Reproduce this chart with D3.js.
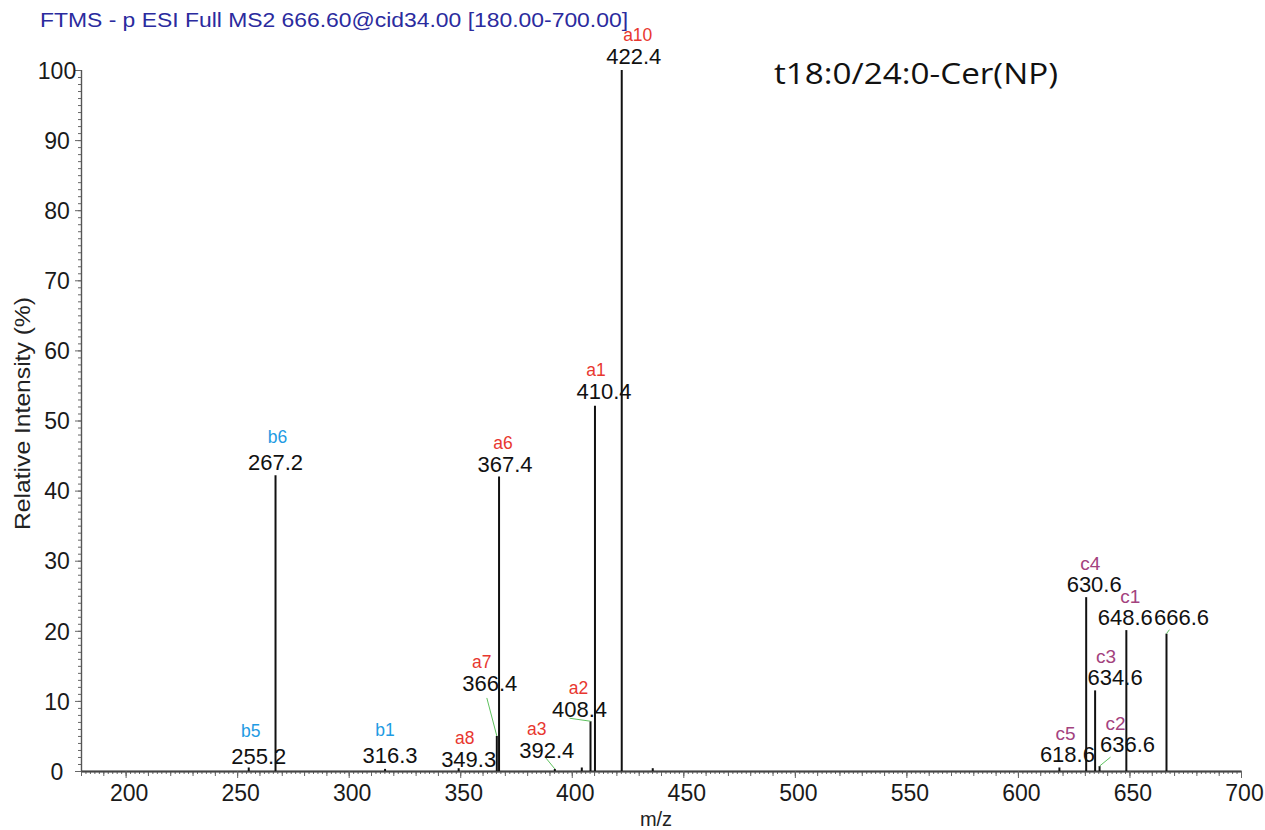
<!DOCTYPE html>
<html><head><meta charset="utf-8">
<script src="https://cdn.jsdelivr.net/npm/d3@7"></script>
<style>
html,body{margin:0;padding:0;background:#fff;}
svg{display:block;font-family:"Liberation Sans",Arial,sans-serif;}
</style></head>
<body><svg id="chart" width="1265" height="830"></svg>
<script>
// ---------- data ----------
const mz        = [255.2, 267.2, 316.3, 349.3, 366.4, 367.4, 392.4, 404.5, 408.4, 410.4, 422.4, 436.3, 618.6, 630.6, 634.6, 636.6, 648.6, 666.6];
const intensity = [0.5,   42.2,  0.3,   0.4,   5.0,   42.0,  0.3,   0.5,   7.1,   52.1,  100,   0.4,   0.5,   24.8,  11.5,  0.7,   20.1,  19.6];
const ionName   = ["b5",  "b6",  "b1",  "a8",  "a7",  "a6",  "a3",  "",    "a2",  "a1",  "a10", "",    "c5",  "c4",  "c3",  "c2",  "c1",  ""];
const ionSeries = ["b",   "b",   "b",   "a",   "a",   "a",   "a",   "",    "a",   "a",   "a",   "",    "c",   "c",   "c",   "c",   "c",   ""];
const labelled  = [true,  true,  true,  true,  true,  true,  true,  false, true,  true,  true,  false, true,  true,  true,  true,  true,  true];
const xTicks = [200, 250, 300, 350, 400, 450, 500, 550, 600, 650, 700];
const yTicks = [0, 10, 20, 30, 40, 50, 60, 70, 80, 90, 100];
const titleText = "FTMS - p ESI Full MS2 666.60@cid34.00 [180.00-700.00]";
const compoundText = "t18:0/24:0-Cer(NP)";
const xTitle = "m/z", yTitle = "Relative Intensity (%)";

// ---------- layout (pixel nudges for peak labels, not data) ----------
// [number dx, number dy (baseline vs peak top), ion dx, ion dy (vs number baseline), leader start dx, leader start dy (vs peak top)]
const labelNudge = {
  "255.2": [10, -3, -8, -27],
  "267.2": [0, -5, 2, -27],
  "316.3": [5, -6, -5, -27],
  "349.3": [10, -1, -4, -23],
  "366.4": [-7, -45, -8, -23, -10, -38],
  "367.4": [6, -5, -2, -23],
  "392.4": [-8, -11, -10, -23, -9, -11],
  "408.4": [-11, -4, -1, -23, -21, -3],
  "410.4": [9, -7, -8, -23],
  "422.4": [12, -6, 4, -23],
  "618.6": [8, -5, -2, -22],
  "630.6": [8, -5, -4, -22],
  "634.6": [20, -5, -9, -22],
  "636.6": [28, -14, -12, -22, 11, -9],
  "648.6": [-1, -5, 5, -22],
  "666.6": [15, -9, 0, -20, 3, -4]
};
const ionColor = {a: "#e8372f", b: "#1f9be3", c: "#a3427e"};

// ---------- chart ----------
const svg = d3.select("#chart");
const x = d3.scaleLinear().domain([180, 700]).range([81, 1241]);
const y = d3.scaleLinear().domain([0, 100]).range([771, 70]);

// y axis
const gy = svg.append("g").attr("transform", `translate(${x(180)},0)`);
gy.call(d3.axisLeft(y).tickValues(d3.range(0, 101, 1)).tickSize(3).tickFormat(""));
gy.append("g").call(d3.axisLeft(y).tickValues(yTicks).tickSize(6).tickFormat(d3.format("d")));
gy.selectAll("path.domain").attr("stroke", "#555").attr("stroke-width", 1.2);
gy.selectAll(".tick line").attr("stroke", "#666");
gy.selectAll(".tick text").attr("font-size", 23).attr("fill", "#1a1a1a")
  .attr("font-family", "Liberation Sans, Arial, sans-serif")
  .attr("text-anchor", "middle").attr("x", -24).attr("dy", "0.36em");

// x axis
const gx = svg.append("g").attr("transform", `translate(0,${y(0)})`);
gx.call(d3.axisBottom(x).tickValues(d3.range(180, 701, 2)).tickSize(3).tickFormat("").tickSizeOuter(0));
gx.append("g").call(d3.axisBottom(x).tickValues(d3.range(180, 701, 10)).tickSize(5).tickFormat("").tickSizeOuter(0));
gx.append("g").call(d3.axisBottom(x).tickValues(xTicks).tickSize(7).tickPadding(7).tickFormat(d3.format("d")).tickSizeOuter(0));
gx.selectAll("path.domain").attr("stroke", "#444").attr("stroke-width", 1.5);
gx.selectAll(".tick line").attr("stroke", "#666");
gx.selectAll(".tick text").attr("font-size", 23).attr("fill", "#1a1a1a")
  .attr("font-family", "Liberation Sans, Arial, sans-serif").attr("dx", 3);

// peaks
const peaks = mz.map((m, i) => ({mz: m, v: intensity[i], ion: ionName[i], series: ionSeries[i], lab: labelled[i]}));
svg.append("g").selectAll("line").data(peaks).join("line")
  .attr("x1", d => x(d.mz)).attr("x2", d => x(d.mz))
  .attr("y1", y(0)).attr("y2", d => y(d.v))
  .attr("stroke", "#111").attr("stroke-width", 2);

// labels
const lab = svg.append("g");
peaks.filter(d => d.lab).forEach(d => {
  const key = d.mz.toFixed(1);
  const n = labelNudge[key] || [0, -5, 0, -23];
  const px = x(d.mz), py = y(d.v);
  const nx = px + n[0], ny = py + n[1];
  if (n.length > 4) {
    lab.append("line").attr("x1", px + n[4]).attr("y1", py + n[5]).attr("x2", px).attr("y2", py)
      .attr("stroke", "#5fc25f").attr("stroke-width", 1);
  }
  lab.append("text").attr("x", nx).attr("y", ny).attr("text-anchor", "middle")
    .attr("font-size", 22).attr("fill", "#111").text(key);
  if (d.ion) {
    lab.append("text").attr("x", nx + n[2]).attr("y", ny + n[3]).attr("text-anchor", "middle")
      .attr("font-size", d.series === "c" ? 19 : 17.5).attr("fill", ionColor[d.series]).text(d.ion);
  }
});

// titles
svg.append("text").attr("x", 40).attr("y", 27).attr("font-size", 20)
  .attr("textLength", 588).attr("lengthAdjust", "spacingAndGlyphs")
  .attr("fill", "#2b2b9e").text(titleText);
svg.append("text").attr("x", 774).attr("y", 84).attr("font-size", 29)
  .attr("textLength", 284).attr("lengthAdjust", "spacingAndGlyphs")
  .attr("font-family", "Open Sans, Noto Sans, sans-serif").attr("fill", "#111").text(compoundText);
svg.append("text").attr("x", 656).attr("y", 826).attr("text-anchor", "middle")
  .attr("font-size", 20).attr("fill", "#222").text(xTitle);
svg.append("text").attr("transform", `translate(30,${y(50) - 7}) rotate(-90)`).attr("text-anchor", "middle")
  .attr("font-size", 22).attr("textLength", 233).attr("lengthAdjust", "spacingAndGlyphs")
  .attr("fill", "#222").text(yTitle);
</script></body></html>
